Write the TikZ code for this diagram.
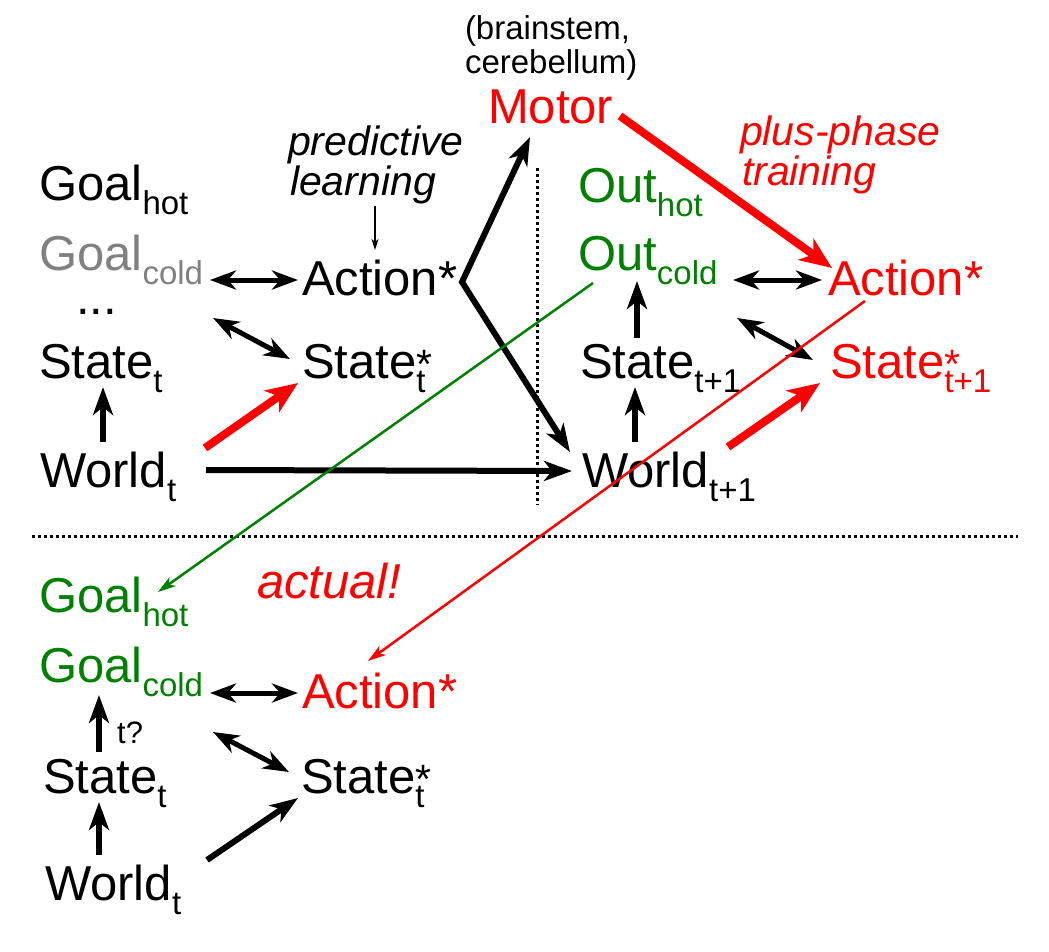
\documentclass[tikz,border=0pt]{standalone}
\usepackage{fontspec}
\setmainfont{Liberation Sans}
\usetikzlibrary{arrows.meta}
\definecolor{myred}{RGB}{255,0,0}
\definecolor{mygreen}{RGB}{0,128,0}
\definecolor{mygray}{RGB}{128,128,128}
\newcommand\sbx[1]{\raisebox{-0.3em}{\fontsize{33}{33}\selectfont #1}}
\newcommand\ssx[1]{\rlap{\fontsize{41}{41}\selectfont *}\raisebox{-0.3em}{\fontsize{33}{33}\selectfont #1}}
\begin{document}
\begin{tikzpicture}[x=1pt,y=-1pt,
  lbl/.style={anchor=base west, inner sep=0pt, outer sep=0pt, font=\fontsize{49}{49}\selectfont},
  smalllbl/.style={anchor=base west, inner sep=0pt, outer sep=0pt, font=\fontsize{33}{33}\selectfont},
  ital/.style={anchor=base west, inner sep=0pt, outer sep=0pt, font=\fontsize{41}{41}\selectfont\itshape},
  dbl/.style={line width=5pt, {Stealth[length=26pt,width=19pt,inset=8pt]}-{Stealth[length=26pt,width=19pt,inset=8pt]}},
  arr/.style={line width=6pt, -{Stealth[length=28pt,width=20pt,inset=8pt]}},
  zig/.style={line width=6pt, {Stealth[length=28pt,width=20pt,inset=8pt]}-{Stealth[length=28pt,width=20pt,inset=8pt]}},
  redarr/.style={line width=8pt, draw=myred, -{Stealth[length=32pt,width=26pt,inset=9pt]}},
  thinarr/.style={line width=2.5pt, -{Stealth[length=18pt,width=11pt,inset=5pt]}},
  tinyarr/.style={line width=1.5pt, -{Stealth[length=11pt,width=7pt,inset=3pt]}},
  sepline/.style={line width=3pt, dash pattern=on 3pt off 3pt}
]
\useasboundingbox (0,0) rectangle (1049,951);
% ---- top left ----
\node[lbl] (gh) at (39,200) {Goal\sbx{hot}};
\node[lbl, text=mygray] (gc) at (39,270) {Goal\sbx{cold}};
\node[lbl] (dots) at (76,314) {...};
\node[lbl] (st) at (39,378) {State\sbx{t}};
\node[lbl] (wt) at (40,487) {World\sbx{t}};
\node[ital] (pred) at (288,155) {predictive};
\node[ital] (learn) at (290,195) {learning};
\node[lbl] (act) at (302,295) {Action*};
\node[lbl] (sst) at (302,378) {State\ssx{t}};
% ---- top right ----
\node[smalllbl] (brain) at (465,39) {(brainstem,};
\node[smalllbl] (cereb) at (465,73) {cerebellum)};
\node[lbl, text=myred] (motor) at (488,123) {Motor};
\node[lbl, text=mygreen] (oh) at (578,202) {Out\sbx{hot}};
\node[lbl, text=mygreen] (oc) at (578,270) {Out\sbx{cold}};
\node[lbl] (st1) at (580,378) {State\sbx{t+1}};
\node[lbl] (wt1) at (582,487) {World\sbx{t+1}};
\node[ital, text=myred] (plus) at (740,145) {plus-phase};
\node[ital, text=myred] (train) at (742,185) {training};
\node[lbl, text=myred] (actR) at (828,295) {Action*};
\node[lbl, text=myred] (sstR) at (830,378) {State\ssx{t+1}};
% ---- bottom ----
\node[lbl, text=mygreen] (ghB) at (39,612) {Goal\sbx{hot}};
\node[lbl, text=mygreen] (gcB) at (39,682) {Goal\sbx{cold}};
\node[ital, text=myred, font=\fontsize{49}{49}\selectfont\itshape] (actual) at (257,598) {actual!};
\node[lbl, text=myred] (actB) at (302,708) {Action*};
\node[anchor=base west, inner sep=0pt, font=\fontsize{31}{31}\selectfont] (tq) at (117,743) {t?};
\node[lbl] (stB) at (43,793) {State\sbx{t}};
\node[lbl] (sstB) at (301,793) {State\ssx{t}};
\node[lbl] (wtB) at (45,900) {World\sbx{t}};
% ---- separators ----
\draw[sepline] (537,168) -- (537,505);
\draw[sepline] (32,536) -- (1018,536);
% ---- top left connectors ----
\draw[arr] ([shift={(63,-45)}]wt.base west) -- ([shift={(64,9)}]st.base west);
\draw[dbl] ([shift={(171,10)}]gc.base west) -- ([shift={(-4,-15)}]act.base west);
\draw[dbl] ([shift={(174,48)}]gc.base west) -- ([shift={(-12,-19)}]sst.base west);
\draw[redarr] ([shift={(165,-39)}]wt.base west) -- ([shift={(-4,5)}]sst.base west);
\draw[arr] ([shift={(166,-17)}]wt.base west) -- ([shift={(-10,-16)}]wt1.base west);
\draw[tinyarr] ([shift={(85,11)}]learn.base west) -- ([shift={(73,-45)}]act.base west);
\coordinate (vtx) at ([shift={(160,-13)}]act.base west);
\draw[zig, line join=miter] ([shift={(42,14)}]motor.base west) -- (vtx) -- ([shift={(-12,-35)}]wt1.base west);
% ---- top right connectors ----
\draw[redarr] ([shift={(132,-7)}]motor.base west) -- ([shift={(4,-27)}]actR.base west);
\draw[arr] ([shift={(57,-40)}]st1.base west) -- ([shift={(59,11)}]oc.base west);
\draw[arr] ([shift={(53,-45)}]wt1.base west) -- ([shift={(55,9)}]st1.base west);
\draw[dbl] ([shift={(155,10)}]oc.base west) -- ([shift={(-6,-15)}]actR.base west);
\draw[dbl] ([shift={(159,48)}]oc.base west) -- ([shift={(-17,-18)}]sstR.base west);
\draw[redarr] ([shift={(146,-40)}]wt1.base west) -- ([shift={(-10,5)}]sstR.base west);
\draw[thinarr, draw=mygreen, fill=mygreen] ([shift={(15,13)}]oc.base west) -- ([shift={(119,-20)}]ghB.base west);
\draw[thinarr, draw=myred, fill=myred] ([shift={(37,6)}]actR.base west) -- ([shift={(66,-47)}]actB.base west);
% ---- bottom connectors ----
\draw[dbl] ([shift={(171,11)}]gcB.base west) -- ([shift={(-4,-15)}]actB.base west);
\draw[arr] ([shift={(56,-41)}]stB.base west) -- ([shift={(60,13)}]gcB.base west);
\draw[dbl] ([shift={(174,50)}]gcB.base west) -- ([shift={(-12,-21)}]sstB.base west);
\draw[arr] ([shift={(54,-45)}]wtB.base west) -- ([shift={(56,9)}]stB.base west);
\draw[arr] ([shift={(162,-40)}]wtB.base west) -- ([shift={(-3,5)}]sstB.base west);
\end{tikzpicture}
\end{document}
